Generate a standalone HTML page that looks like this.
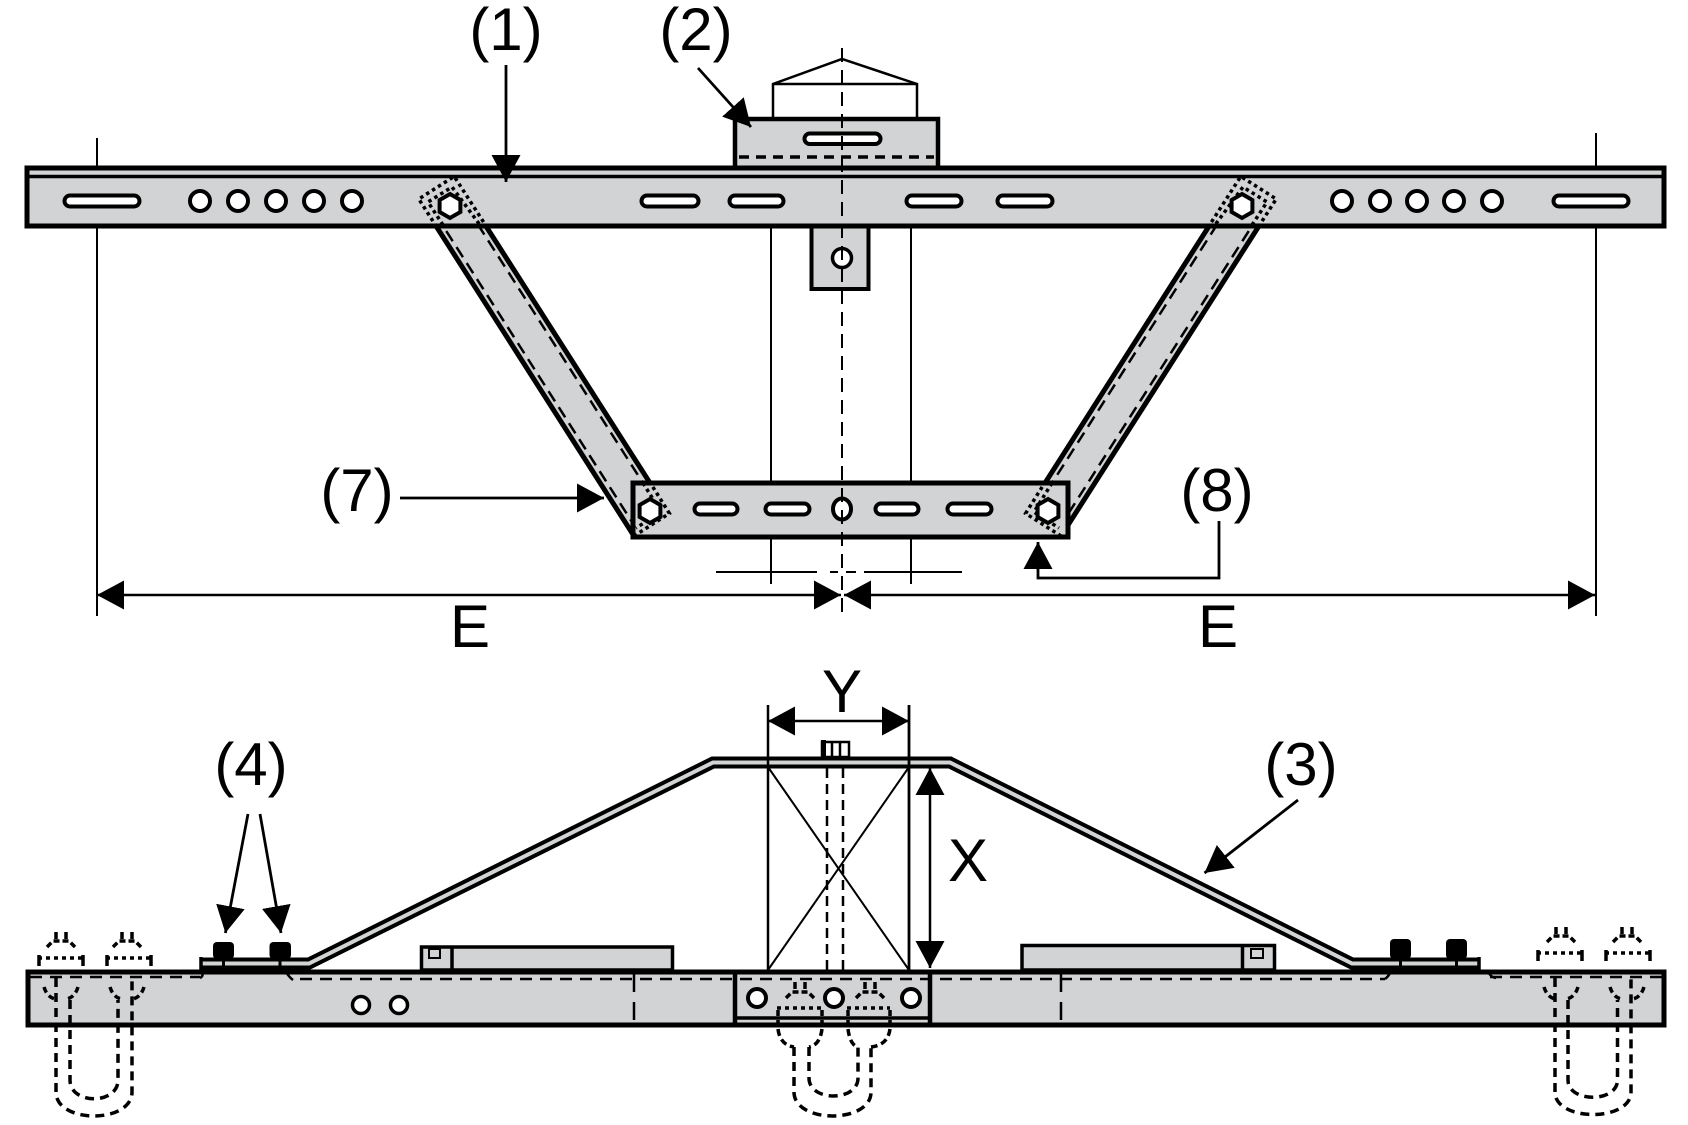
<!DOCTYPE html>
<html><head><meta charset="utf-8"><style>
html,body{margin:0;padding:0;background:#fff;}
svg{display:block;}
text{font-family:"Liberation Sans",Arial,sans-serif;font-size:60px;fill:#000;}
</style></head><body>
<svg width="1688" height="1125" viewBox="0 0 1688 1125" xmlns="http://www.w3.org/2000/svg">
<defs>
<marker id="a" viewBox="0 0 27 29" refX="27" refY="14.5" markerWidth="27" markerHeight="29" markerUnits="userSpaceOnUse" orient="auto-start-reverse"><path d="M0,0 L27,14.5 L0,29 z" fill="#000"/></marker>
</defs>

<!-- ================= TOP VIEW ================= -->
<g stroke="#000" fill="none">
  <line x1="97" y1="138" x2="97" y2="616" stroke-width="2"/>
  <line x1="1596" y1="133" x2="1596" y2="616" stroke-width="2"/>
  <line x1="771" y1="228" x2="771" y2="584" stroke-width="2"/>
  <line x1="911" y1="228" x2="911" y2="584" stroke-width="2"/>
  <line x1="716" y1="572" x2="817" y2="572" stroke-width="2"/>
  <line x1="830" y1="572" x2="838" y2="572" stroke-width="2"/>
  <line x1="846" y1="572" x2="856" y2="572" stroke-width="2"/>
  <line x1="864" y1="572" x2="962" y2="572" stroke-width="2"/>
  <line x1="97" y1="595" x2="841" y2="595" stroke-width="2.5" marker-start="url(#a)" marker-end="url(#a)"/>
  <line x1="844" y1="595" x2="1595" y2="595" stroke-width="2.5" marker-start="url(#a)" marker-end="url(#a)"/>
</g>

<!-- struts -->
<polygon points="418.8,199 454.2,176.4 669.4,513.4 634,536" fill="#d1d3d4"/>
<polygon points="1276.2,199 1240.8,176.4 1025.6,513.4 1061,536" fill="#d1d3d4"/>
<g stroke="#000" fill="none">
  <line x1="418.8" y1="199" x2="634" y2="536" stroke-width="5"/>
  <line x1="454.2" y1="176.4" x2="669.4" y2="513.4" stroke-width="5"/>
  <line x1="425.8" y1="199" x2="641" y2="536" stroke-width="2.5" stroke-dasharray="12 7"/>
  <line x1="447.2" y1="176.4" x2="662.4" y2="513.4" stroke-width="2.5" stroke-dasharray="12 7"/>
  <line x1="1276.2" y1="199" x2="1061" y2="536" stroke-width="5"/>
  <line x1="1240.8" y1="176.4" x2="1025.6" y2="513.4" stroke-width="5"/>
  <line x1="1269.2" y1="199" x2="1054" y2="536" stroke-width="2.5" stroke-dasharray="12 7"/>
  <line x1="1247.8" y1="176.4" x2="1032.6" y2="513.4" stroke-width="2.5" stroke-dasharray="12 7"/>
</g>

<!-- bracket (2) -->
<rect x="735" y="119" width="203" height="49" fill="#d1d3d4" stroke="#000" stroke-width="4.5"/>
<line x1="739" y1="157" x2="934" y2="157" stroke="#000" stroke-width="3.5" stroke-dasharray="10 7"/>
<rect x="804.5" y="133.5" width="76" height="10.5" rx="5.25" fill="#fff" stroke="#000" stroke-width="4"/>
<polyline points="773,119 773,84 842,59 917,84 917,119" fill="none" stroke="#000" stroke-width="2.5"/>
<line x1="773" y1="84" x2="917" y2="84" stroke="#000" stroke-width="2.5"/>

<!-- tab -->
<rect x="811.5" y="226" width="57" height="63" fill="#d1d3d4" stroke="#000" stroke-width="4"/>
<circle cx="842" cy="258" r="9.5" fill="#fff" stroke="#000" stroke-width="3.5"/>

<!-- main beam -->
<rect x="27" y="168" width="1637" height="58" fill="#d1d3d4" stroke="#000" stroke-width="5"/>
<line x1="29" y1="176.5" x2="1662" y2="176.5" stroke="#000" stroke-width="3.5"/>
<g fill="#fff" stroke="#000" stroke-width="4">
  <rect x="64.5" y="195.5" width="75" height="11" rx="5.5"/>
  <rect x="641.5" y="195.5" width="57" height="11" rx="5.5"/>
  <rect x="729.5" y="195.5" width="54" height="11" rx="5.5"/>
  <rect x="906.5" y="195.5" width="55" height="11" rx="5.5"/>
  <rect x="997.5" y="195.5" width="55" height="11" rx="5.5"/>
  <rect x="1553.5" y="195.5" width="75" height="11" rx="5.5"/>
  <circle cx="200" cy="201" r="10"/><circle cx="238" cy="201" r="10"/><circle cx="276" cy="201" r="10"/><circle cx="314" cy="201" r="10"/><circle cx="352" cy="201" r="10"/>
  <circle cx="1342" cy="201" r="10"/><circle cx="1380" cy="201" r="10"/><circle cx="1417" cy="201" r="10"/><circle cx="1454" cy="201" r="10"/><circle cx="1492" cy="201" r="10"/>
</g>

<!-- lower bar -->
<rect x="633" y="483" width="435" height="54" fill="#d1d3d4" stroke="#000" stroke-width="5"/>
<g fill="#fff" stroke="#000" stroke-width="4">
  <rect x="694.5" y="503.5" width="43" height="11" rx="5.5"/>
  <rect x="765.5" y="503.5" width="44" height="11" rx="5.5"/>
  <rect x="875.5" y="503.5" width="43" height="11" rx="5.5"/>
  <rect x="947.5" y="503.5" width="44" height="11" rx="5.5"/>
  <ellipse cx="842" cy="509" rx="9" ry="10.5"/>
</g>

<!-- hidden strut ends (dotted) -->
<g fill="none" stroke="#000" stroke-width="3.5" stroke-dasharray="3.5 3.5">
  <polyline points="436.7,227 418.8,199 454.2,176.4 486.7,227"/>
  <polyline points="443,225 428,202 452,187 480,225"/>
  <polyline points="1258.3,227 1276.2,199 1240.8,176.4 1208.3,227"/>
  <polyline points="1252,225 1267,202 1243,187 1215,225"/>
  <polyline points="649.1,481 669.4,513.4 634,536"/>
  <polyline points="643,483 661,512 636,528"/>
  <polyline points="1045.9,481 1025.6,513.4 1061,536"/>
  <polyline points="1052,483 1034,512 1059,528"/>
</g>
<!-- hexes -->
<g fill="#fff" stroke="#000" stroke-width="4">
  <polygon points="450,194 460.4,200 460.4,212 450,218 439.6,212 439.6,200"/>
  <polygon points="1242,194 1252.4,200 1252.4,212 1242,218 1231.6,212 1231.6,200"/>
  <polygon points="650,499 660.4,505 660.4,517 650,523 639.6,517 639.6,505"/>
  <polygon points="1048,499 1058.4,505 1058.4,517 1048,523 1037.6,517 1037.6,505"/>
</g>

<!-- center line -->
<line x1="842" y1="48" x2="842" y2="616" stroke="#000" stroke-width="2" stroke-dasharray="14 8"/>

<!-- leaders top -->
<g stroke="#000" stroke-width="2.8" fill="none">
  <line x1="506" y1="65" x2="506" y2="182" marker-end="url(#a)"/>
  <line x1="698" y1="68" x2="751" y2="127" marker-end="url(#a)"/>
  <line x1="400" y1="498" x2="604" y2="498" marker-end="url(#a)"/>
  <polyline points="1219,521 1219,578 1038,578 1038,542" marker-end="url(#a)"/>
</g>

<text x="506" y="50" text-anchor="middle">(1)</text>
<text x="696" y="50" text-anchor="middle">(2)</text>
<text x="357" y="511" text-anchor="middle">(7)</text>
<text x="1217" y="511" text-anchor="middle">(8)</text>
<text x="470" y="647" text-anchor="middle">E</text>
<text x="1218" y="647" text-anchor="middle">E</text>

<!-- ================= SIDE VIEW ================= -->
<rect x="28" y="972" width="1636" height="53" fill="#d1d3d4" stroke="#000" stroke-width="5"/>
<g stroke="#000" fill="none" stroke-width="2.5">
  <line x1="30" y1="977" x2="200" y2="977" stroke-dasharray="12 8"/>
  <line x1="300" y1="979" x2="1385" y2="979" stroke-dasharray="12 8"/>
  <line x1="1490" y1="977" x2="1662" y2="977" stroke-dasharray="12 8"/>
  <path d="M286,972 Q289,977 293,980"/>
  <path d="M1385,979 Q1389,976 1391,971"/>
  <path d="M1488,971 Q1490,977 1496,978"/>
  <path d="M202,971 Q204,976 200,978"/>
  <line x1="634" y1="974" x2="634" y2="1025" stroke-dasharray="18 10"/>
  <line x1="1061" y1="974" x2="1061" y2="1025" stroke-dasharray="18 10"/>
</g>
<circle cx="361" cy="1005" r="8.5" fill="#fff" stroke="#000" stroke-width="3.5"/>
<circle cx="399" cy="1005" r="8.5" fill="#fff" stroke="#000" stroke-width="3.5"/>

<!-- center block -->
<g stroke="#000">
  <line x1="735" y1="970" x2="735" y2="1027" stroke-width="4.5"/>
  <line x1="930" y1="970" x2="930" y2="1027" stroke-width="4.5"/>
  <line x1="735" y1="1018" x2="930" y2="1018" stroke-width="3.5"/>
</g>
<g fill="#fff" stroke="#000" stroke-width="4">
  <circle cx="757" cy="998" r="9"/><circle cx="834" cy="998" r="9"/><circle cx="911" cy="998" r="9"/>
</g>
<g stroke="#000" fill="none" stroke-width="3.5">
  <line x1="777" y1="1008" x2="822" y2="1008" stroke-dasharray="4 4"/>
  <line x1="847" y1="1008" x2="890" y2="1008" stroke-dasharray="4 4"/>
  <line x1="778" y1="1010" x2="778" y2="1027" stroke-dasharray="6 4"/>
  <line x1="822" y1="1010" x2="822" y2="1027" stroke-dasharray="6 4"/>
  <line x1="848" y1="1010" x2="848" y2="1027" stroke-dasharray="6 4"/>
  <line x1="890" y1="1010" x2="890" y2="1027" stroke-dasharray="6 4"/>
  <path d="M786,998 L792,992 L808,992 L814,998" stroke-dasharray="6 3"/>
  <path d="M856,998 L862,992 L878,992 L884,998" stroke-dasharray="6 3"/>
  <line x1="795" y1="982" x2="795" y2="989"/><line x1="805" y1="982" x2="805" y2="989"/>
  <line x1="865" y1="982" x2="865" y2="989"/><line x1="875" y1="982" x2="875" y2="989"/>
</g>

<!-- rail stubs -->
<rect x="421.5" y="947" width="251" height="23" fill="#d1d3d4" stroke="#000" stroke-width="3.5"/>
<line x1="452" y1="947" x2="452" y2="970" stroke="#000" stroke-width="3.5"/>
<rect x="429" y="949" width="11" height="9" fill="none" stroke="#000" stroke-width="2"/>
<rect x="1022" y="945.5" width="252.5" height="24.5" fill="#d1d3d4" stroke="#000" stroke-width="3.5"/>
<line x1="1242.5" y1="945.5" x2="1242.5" y2="970" stroke="#000" stroke-width="3.5"/>
<rect x="1251" y="949" width="12" height="9" fill="none" stroke="#000" stroke-width="2"/>

<!-- bracket (3) -->
<path d="M201,963.5 L309,963.5 L713,762.5 L950,762.5 L1352,963.5 L1479,963.5" fill="none" stroke="#000" stroke-width="12" stroke-linejoin="miter"/>
<path d="M201,963.5 L309,963.5 L713,762.5 L950,762.5 L1352,963.5 L1479,963.5" fill="none" stroke="#d1d3d4" stroke-width="4" stroke-linejoin="miter"/>
<line x1="201" y1="957" x2="201" y2="970" stroke="#000" stroke-width="3.5"/>
<line x1="1479" y1="957" x2="1479" y2="970" stroke="#000" stroke-width="3.5"/>

<!-- bolts (4) -->
<g fill="#000">
  <rect x="213" y="942" width="21" height="17" rx="4"/>
  <rect x="269.5" y="942" width="21.5" height="17" rx="4"/>
  <rect x="1390" y="939" width="21" height="20" rx="4"/>
  <rect x="1446" y="939" width="21" height="20" rx="4"/>
</g>
<g stroke="#000" stroke-width="3">
  <line x1="223.5" y1="958" x2="223.5" y2="970"/><line x1="280" y1="958" x2="280" y2="970"/>
  <line x1="1400.5" y1="958" x2="1400.5" y2="970"/><line x1="1456.5" y1="958" x2="1456.5" y2="970"/>
</g>

<!-- X box -->
<g stroke="#000" fill="none">
  <line x1="768" y1="705" x2="768" y2="970" stroke-width="2.5"/>
  <line x1="909" y1="705" x2="909" y2="970" stroke-width="2.8"/>
  <line x1="768" y1="767" x2="909" y2="970" stroke-width="2"/>
  <line x1="909" y1="767" x2="768" y2="970" stroke-width="2"/>
  <line x1="827" y1="768" x2="827" y2="970" stroke-width="2.5" stroke-dasharray="10 6"/>
  <line x1="843" y1="768" x2="843" y2="970" stroke-width="2.5" stroke-dasharray="10 6"/>
</g>
<rect x="822" y="742" width="27" height="15" fill="#fff" stroke="#000" stroke-width="2.5"/>
<rect x="821" y="740" width="5" height="17" fill="#000"/>
<line x1="832" y1="742" x2="832" y2="757" stroke="#000" stroke-width="2.5"/>
<line x1="840" y1="742" x2="840" y2="757" stroke="#000" stroke-width="2.5"/>

<!-- Y / X dimensions -->
<line x1="768" y1="721" x2="909" y2="721" stroke="#000" stroke-width="2.5" marker-start="url(#a)" marker-end="url(#a)"/>
<line x1="930" y1="768" x2="930" y2="968" stroke="#000" stroke-width="2.5" marker-start="url(#a)" marker-end="url(#a)"/>

<!-- U-bolts (hidden, dashed) -->
<g stroke="#000" fill="none" stroke-width="3.5">
  <path d="M56,978 V1092 C56,1124 132,1124 132,1092 V978" stroke-dasharray="9 6"/>
  <path d="M70,1000 V1080 C70,1105 118,1105 118,1080 V1000" stroke-dasharray="9 6"/>
  <path d="M44,987 Q47,997 55,999 M78,987 Q75,997 67,999" stroke-dasharray="6 4"/>
  <path d="M110,987 Q113,997 121,999 M144,987 Q141,997 133,999" stroke-dasharray="6 4"/>
  <line x1="38" y1="958" x2="84" y2="958" stroke-dasharray="4 4"/>
  <line x1="106" y1="958" x2="152" y2="958" stroke-dasharray="4 4"/>
  <line x1="39" y1="955" x2="39" y2="966"/><line x1="83" y1="955" x2="83" y2="966"/>
  <line x1="107" y1="955" x2="107" y2="966"/><line x1="151" y1="955" x2="151" y2="966"/>
  <path d="M47,947 L53,941 L69,941 L75,947" stroke-dasharray="6 3"/>
  <path d="M113,947 L119,941 L135,941 L141,947" stroke-dasharray="6 3"/>
  <line x1="56" y1="932" x2="56" y2="939"/><line x1="66" y1="932" x2="66" y2="939"/>
  <line x1="122" y1="932" x2="122" y2="939"/><line x1="132" y1="932" x2="132" y2="939"/>
  <path d="M794,1047 V1092 C794,1124 871,1124 871,1092 V1047" stroke-dasharray="9 6"/>
  <path d="M809,1047 V1078 C809,1102 858,1102 858,1078 V1047" stroke-dasharray="9 6"/>
  <path d="M778,1029 Q780,1045 794,1047 M822,1029 Q820,1045 809,1047" stroke-dasharray="7 4"/>
  <path d="M848,1029 Q850,1045 858,1047 M890,1029 Q888,1045 871,1047" stroke-dasharray="7 4"/>
  <path d="M1555,978 V1092 C1555,1122 1631,1122 1631,1092 V978" stroke-dasharray="9 6"/>
  <path d="M1568,1000 V1080 C1568,1103 1617.5,1103 1617.5,1080 V1000" stroke-dasharray="9 6"/>
  <path d="M1544,987 Q1547,997 1555,999 M1578,987 Q1575,997 1567,999" stroke-dasharray="6 4"/>
  <path d="M1610,987 Q1613,997 1621,999 M1644,987 Q1641,997 1633,999" stroke-dasharray="6 4"/>
  <line x1="1537" y1="953" x2="1583" y2="953" stroke-dasharray="4 4"/>
  <line x1="1605" y1="953" x2="1651" y2="953" stroke-dasharray="4 4"/>
  <line x1="1538" y1="950" x2="1538" y2="961"/><line x1="1582" y1="950" x2="1582" y2="961"/>
  <line x1="1606" y1="950" x2="1606" y2="961"/><line x1="1650" y1="950" x2="1650" y2="961"/>
  <path d="M1547,942 L1553,936 L1569,936 L1575,942" stroke-dasharray="6 3"/>
  <path d="M1613,942 L1619,936 L1635,936 L1641,942" stroke-dasharray="6 3"/>
  <line x1="1556" y1="927" x2="1556" y2="934"/><line x1="1566" y1="927" x2="1566" y2="934"/>
  <line x1="1622" y1="927" x2="1622" y2="934"/><line x1="1632" y1="927" x2="1632" y2="934"/>
</g>

<!-- leaders bottom -->
<g stroke="#000" stroke-width="2.8" fill="none">
  <line x1="248" y1="814" x2="225.4" y2="933" marker-end="url(#a)"/>
  <line x1="260" y1="814" x2="281" y2="933" marker-end="url(#a)"/>
  <line x1="1298" y1="800" x2="1204.5" y2="873" marker-end="url(#a)"/>
</g>

<text x="251" y="785" text-anchor="middle">(4)</text>
<text x="1301" y="785" text-anchor="middle">(3)</text>
<text x="842" y="712" text-anchor="middle">Y</text>
<text x="968" y="881" text-anchor="middle">X</text>
</svg>
</body></html>
